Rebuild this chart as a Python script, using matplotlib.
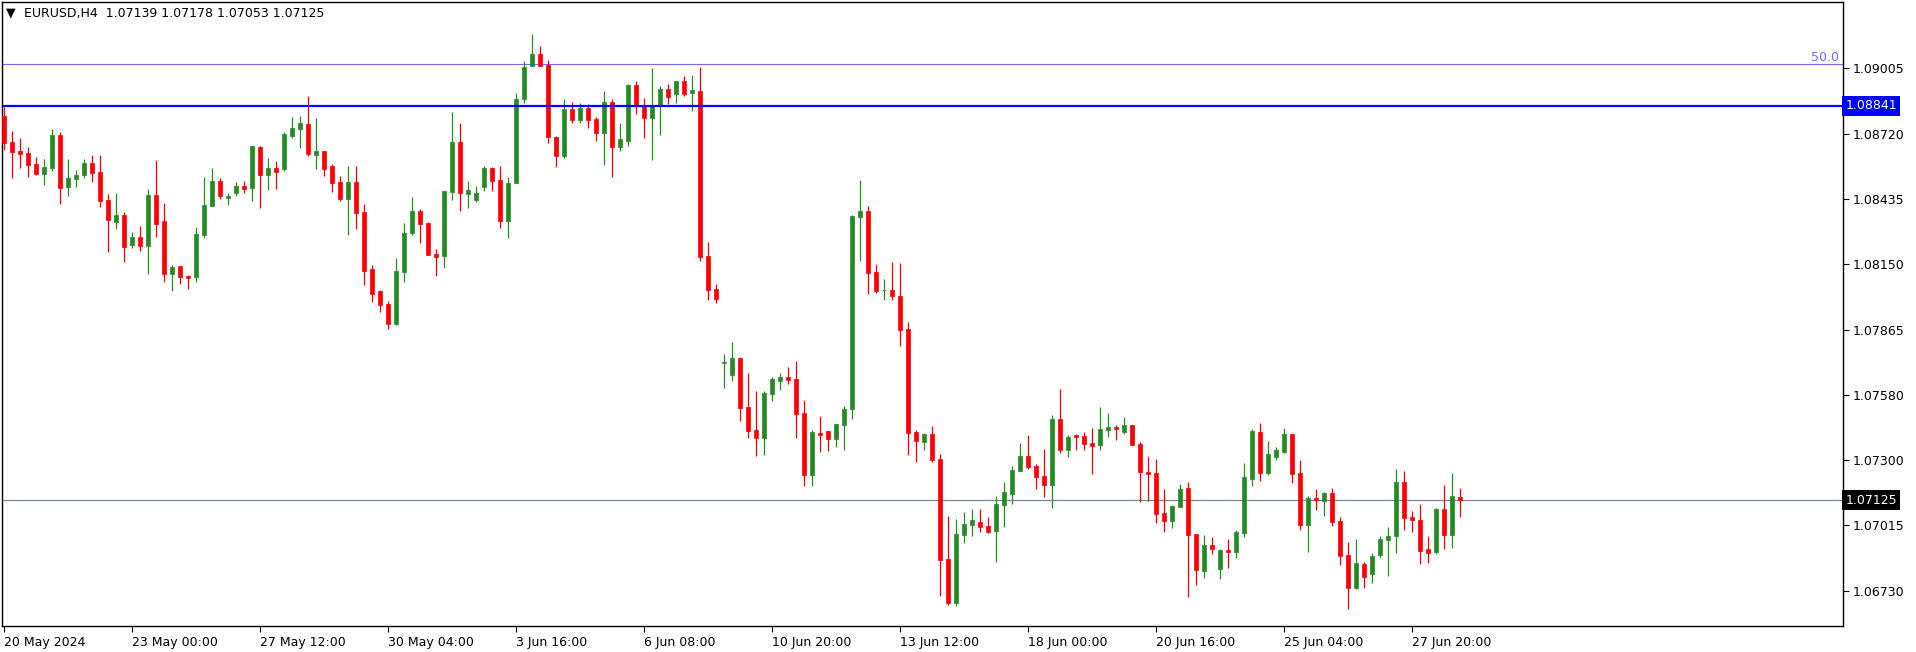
import matplotlib
matplotlib.use("Agg")
import matplotlib.pyplot as plt

# EURUSD H4 candles, oldest first
opens = [1.08796, 1.08683, 1.08644, 1.08635, 1.08587, 1.08545, 1.08571, 1.08713, 1.08488, 1.08523,
         1.08541, 1.08591, 1.08552, 1.08430, 1.08336, 1.08365, 1.08234, 1.08269, 1.08232, 1.08452,
         1.08339, 1.08110, 1.08143, 1.08101, 1.08097, 1.08278, 1.08406, 1.08514, 1.08440, 1.08462,
         1.08491, 1.08484, 1.08661, 1.08541, 1.08570, 1.08567, 1.08710, 1.08741, 1.08761, 1.08628,
         1.08644, 1.08578, 1.08509, 1.08436, 1.08509, 1.08378, 1.08130, 1.08034, 1.07978, 1.07892,
         1.08118, 1.08288, 1.08382, 1.08330, 1.08195, 1.08188, 1.08467, 1.08683, 1.08458, 1.08430,
         1.08488, 1.08570, 1.08517, 1.08340, 1.08504, 1.08870, 1.09015, 1.09066, 1.09019, 1.08705,
         1.08622, 1.08826, 1.08779, 1.08831, 1.08783, 1.08722, 1.08857, 1.08661, 1.08687, 1.08931,
         1.08839, 1.08787, 1.08844, 1.08913, 1.08892, 1.08948, 1.08896, 1.08905, 1.08188, 1.08043,
         1.07722, 1.07670, 1.07743, 1.07530, 1.07429, 1.07396, 1.07588, 1.07644, 1.07660, 1.07651,
         1.07503, 1.07235, 1.07416, 1.07425, 1.07392, 1.07453, 1.07521, 1.08358, 1.08383, 1.08117,
         1.08037, 1.08039, 1.08013, 1.07869, 1.07421, 1.07379, 1.07412, 1.07303, 1.06868, 1.06678,
         1.06974, 1.07017, 1.07029, 1.07012, 1.06990, 1.07104, 1.07152, 1.07252, 1.07316, 1.07273,
         1.07229, 1.07191, 1.07477, 1.07344, 1.07408, 1.07403, 1.07373, 1.07366, 1.07431, 1.07442,
         1.07422, 1.07451, 1.07368, 1.07247, 1.07242, 1.07070, 1.07035, 1.07096, 1.07177, 1.06977,
         1.06817, 1.06929, 1.06826, 1.06907, 1.06900, 1.06983, 1.07218, 1.07421, 1.07244, 1.07313,
         1.07334, 1.07412, 1.07242, 1.07017, 1.07133, 1.07122, 1.07155, 1.07033, 1.06885, 1.06743,
         1.06846, 1.06804, 1.06887, 1.06952, 1.06970, 1.07203, 1.07051, 1.07038, 1.06912, 1.06900,
         1.07086, 1.06974, 1.07139]
highs = [1.08836, 1.08731, 1.08700, 1.08661, 1.08617, 1.08609, 1.08739, 1.08726, 1.08609, 1.08561,
         1.08609, 1.08626, 1.08626, 1.08456, 1.08461, 1.08378, 1.08291, 1.08317, 1.08478, 1.08604,
         1.08417, 1.08147, 1.08143, 1.08104, 1.08313, 1.08530, 1.08570, 1.08526, 1.08461, 1.08509,
         1.08513, 1.08665, 1.08665, 1.08613, 1.08600, 1.08726, 1.08791, 1.08796, 1.08883, 1.08787,
         1.08644, 1.08587, 1.08535, 1.08578, 1.08578, 1.08413, 1.08147, 1.08039, 1.07991, 1.08178,
         1.08330, 1.08443, 1.08391, 1.08335, 1.08217, 1.08469, 1.08813, 1.08765, 1.08513, 1.08491,
         1.08578, 1.08574, 1.08578, 1.08530, 1.08896, 1.09035, 1.09153, 1.09101, 1.09040, 1.08709,
         1.08870, 1.08857, 1.08853, 1.08848, 1.08792, 1.08905, 1.08870, 1.08765, 1.08935, 1.08948,
         1.08874, 1.09005, 1.08927, 1.08935, 1.08948, 1.08970, 1.08974, 1.09009, 1.08248, 1.08065,
         1.07760, 1.07812, 1.07747, 1.07678, 1.07599, 1.07599, 1.07660, 1.07678, 1.07704, 1.07730,
         1.07560, 1.07429, 1.07490, 1.07425, 1.07456, 1.07534, 1.08365, 1.08517, 1.08404, 1.08152,
         1.08087, 1.08161, 1.08156, 1.07899, 1.07431, 1.07416, 1.07447, 1.07325, 1.07055, 1.07042,
         1.07073, 1.07086, 1.07086, 1.07052, 1.07142, 1.07203, 1.07273, 1.07373, 1.07408, 1.07281,
         1.07347, 1.07495, 1.07608, 1.07408, 1.07412, 1.07421, 1.07438, 1.07529, 1.07503, 1.07451,
         1.07486, 1.07451, 1.07377, 1.07316, 1.07303, 1.07174, 1.07103, 1.07194, 1.07203, 1.06977,
         1.06972, 1.06964, 1.06912, 1.06955, 1.06994, 1.07286, 1.07434, 1.07460, 1.07382, 1.07355,
         1.07438, 1.07412, 1.07299, 1.07142, 1.07173, 1.07160, 1.07177, 1.07051, 1.06942, 1.06955,
         1.06855, 1.06894, 1.06968, 1.07007, 1.07260, 1.07251, 1.07077, 1.07107, 1.06968, 1.07090,
         1.07190, 1.07242, 1.07178]
lows = [1.08648, 1.08527, 1.08571, 1.08532, 1.08541, 1.08497, 1.08558, 1.08414, 1.08449, 1.08488,
        1.08527, 1.08510, 1.08401, 1.08205, 1.08306, 1.08162, 1.08223, 1.08210, 1.08110, 1.08271,
        1.08075, 1.08036, 1.08066, 1.08044, 1.08075, 1.08266, 1.08406, 1.08436, 1.08410, 1.08449,
        1.08462, 1.08427, 1.08397, 1.08475, 1.08480, 1.08558, 1.08702, 1.08658, 1.08623, 1.08567,
        1.08536, 1.08467, 1.08427, 1.08279, 1.08306, 1.08062, 1.07988, 1.07944, 1.07870, 1.07888,
        1.08075, 1.08279, 1.08245, 1.08192, 1.08101, 1.08136, 1.08432, 1.08384, 1.08397, 1.08423,
        1.08471, 1.08471, 1.08310, 1.08266, 1.08504, 1.08853, 1.09015, 1.09015, 1.08678, 1.08574,
        1.08613, 1.08765, 1.08765, 1.08744, 1.08687, 1.08583, 1.08530, 1.08644, 1.08665, 1.08805,
        1.08700, 1.08604, 1.08713, 1.08848, 1.08853, 1.08883, 1.08818, 1.08166, 1.07995, 1.07982,
        1.07612, 1.07643, 1.07469, 1.07396, 1.07318, 1.07322, 1.07557, 1.07604, 1.07631, 1.07396,
        1.07187, 1.07187, 1.07335, 1.07340, 1.07357, 1.07344, 1.07479, 1.08166, 1.08023, 1.08027,
        1.07997, 1.07997, 1.07796, 1.07322, 1.07292, 1.07344, 1.07292, 1.06707, 1.06668, 1.06663,
        1.06939, 1.06970, 1.06987, 1.06983, 1.06856, 1.07009, 1.07109, 1.07252, 1.07261, 1.07173,
        1.07139, 1.07091, 1.07331, 1.07313, 1.07344, 1.07344, 1.07239, 1.07344, 1.07400, 1.07387,
        1.07413, 1.07366, 1.07117, 1.07122, 1.07026, 1.06987, 1.07004, 1.07096, 1.06704, 1.06756,
        1.06787, 1.06891, 1.06782, 1.06830, 1.06874, 1.06965, 1.07187, 1.07209, 1.07235, 1.07300,
        1.07331, 1.07200, 1.06996, 1.06900, 1.07083, 1.07057, 1.07013, 1.06843, 1.06652, 1.06739,
        1.06743, 1.06765, 1.06874, 1.06795, 1.06896, 1.06996, 1.06987, 1.06848, 1.06852, 1.06891,
        1.06913, 1.06917, 1.07053]
closes = [1.08680, 1.08641, 1.08632, 1.08584, 1.08545, 1.08574, 1.08713, 1.08484, 1.08526, 1.08539,
          1.08591, 1.08549, 1.08427, 1.08345, 1.08365, 1.08227, 1.08269, 1.08232, 1.08452, 1.08327,
          1.08110, 1.08139, 1.08097, 1.08092, 1.08282, 1.08409, 1.08514, 1.08449, 1.08448, 1.08491,
          1.08480, 1.08665, 1.08541, 1.08570, 1.08554, 1.08718, 1.08744, 1.08765, 1.08632, 1.08644,
          1.08567, 1.08506, 1.08436, 1.08509, 1.08375, 1.08123, 1.08023, 1.07975, 1.07892, 1.08121,
          1.08287, 1.08382, 1.08327, 1.08192, 1.08184, 1.08469, 1.08683, 1.08462, 1.08474, 1.08461,
          1.08570, 1.08514, 1.08340, 1.08504, 1.08870, 1.09009, 1.09066, 1.09015, 1.08705, 1.08622,
          1.08826, 1.08779, 1.08831, 1.08779, 1.08722, 1.08857, 1.08661, 1.08696, 1.08931, 1.08844,
          1.08787, 1.08839, 1.08913, 1.08879, 1.08948, 1.08892, 1.08909, 1.08184, 1.08039, 1.08000,
          1.07725, 1.07743, 1.07527, 1.07427, 1.07396, 1.07590, 1.07651, 1.07660, 1.07649, 1.07501,
          1.07235, 1.07421, 1.07409, 1.07392, 1.07456, 1.07521, 1.08361, 1.08383, 1.08114, 1.08036,
          1.08040, 1.08014, 1.07866, 1.07418, 1.07383, 1.07412, 1.07300, 1.06864, 1.06678, 1.06977,
          1.07020, 1.07038, 1.07007, 1.06985, 1.07107, 1.07160, 1.07255, 1.07316, 1.07270, 1.07225,
          1.07191, 1.07477, 1.07344, 1.07399, 1.07400, 1.07370, 1.07361, 1.07434, 1.07442, 1.07435,
          1.07451, 1.07366, 1.07248, 1.07239, 1.07065, 1.07035, 1.07099, 1.07173, 1.06974, 1.06822,
          1.06929, 1.06913, 1.06907, 1.06900, 1.06986, 1.07225, 1.07425, 1.07244, 1.07325, 1.07342,
          1.07412, 1.07239, 1.07017, 1.07133, 1.07126, 1.07155, 1.07030, 1.06883, 1.06743, 1.06851,
          1.06791, 1.06881, 1.06955, 1.06968, 1.07203, 1.07048, 1.07039, 1.06904, 1.06896, 1.07086,
          1.06974, 1.07142, 1.07125]

time_labels = ["20 May 2024", "23 May 00:00", "27 May 12:00", "30 May 04:00", "3 Jun 16:00",
               "6 Jun 08:00", "10 Jun 20:00", "13 Jun 12:00", "18 Jun 00:00", "20 Jun 16:00",
               "25 Jun 04:00", "27 Jun 20:00"]
price_ticks = [1.09005, 1.08720, 1.08435, 1.08150, 1.07865, 1.07580, 1.07300, 1.07015, 1.06730]

blue_level = 1.08841
bid_level = 1.07125
fibo_50 = 1.09021

BULL = "#228B22"
BEAR = "#FF0000"

W, H = 1916, 652
fig = plt.figure(figsize=(W / 100, H / 100), dpi=100)
fig.patch.set_facecolor("white")
ax = fig.add_axes([2 / W, 26 / H, 1841 / W, 624 / H])

n = len(opens)
xs = list(range(n))
cols = [BULL if c >= o else BEAR for o, c in zip(opens, closes)]

ax.vlines(xs, lows, highs, colors=cols, linewidth=0.9, zorder=3)
ax.bar(xs, [abs(c - o) for o, c in zip(opens, closes)],
       bottom=[min(o, c) for o, c in zip(opens, closes)],
       width=0.56, color=cols, edgecolor=cols, linewidth=0.5, zorder=4)

# levels
ax.axhline(fibo_50, color="#7B68EE", linewidth=0.8, zorder=2)
ax.axhline(blue_level, color="#0000FF", linewidth=1.6, zorder=5)
ax.axhline(bid_level, color="#778899", linewidth=0.9, zorder=2)
ax.text(0.998, fibo_50, "50.0", transform=ax.get_yaxis_transform(), ha="right", va="bottom",
        color="#7B68EE", fontsize=9)

ax.set_xlim(-0.25, 229.875)
ax.set_ylim(1.065767, 1.092923)

ax.yaxis.tick_right()
ax.set_yticks(price_ticks)
ax.set_yticklabels([f"{p:.5f}" for p in price_ticks], fontsize=9)
ax.set_xticks(list(range(0, 16 * len(time_labels), 16)))
ax.set_xticklabels(time_labels, fontsize=9)
for lbl in ax.get_xticklabels():
    lbl.set_horizontalalignment("left")
ax.tick_params(axis="x", direction="out", length=4, width=0.8, pad=3)
ax.tick_params(axis="y", direction="out", length=4, width=0.8, pad=3)
for s in ax.spines.values():
    s.set_linewidth(1.0)
    s.set_color("black")

# price tags on the scale
tr = ax.get_yaxis_transform()
ax.text(1.0012, blue_level, f"{blue_level:.5f}", transform=tr, ha="left", va="center",
        color="white", fontsize=9, clip_on=False,
        bbox=dict(facecolor="#0000FF", edgecolor="none", pad=2.4))
ax.text(1.0012, bid_level, f"{bid_level:.5f}", transform=tr, ha="left", va="center",
        color="white", fontsize=9, clip_on=False,
        bbox=dict(facecolor="black", edgecolor="none", pad=2.4))

# header
fig.text(6 / W, 1 - 13 / H, "\u25BC", fontsize=9, va="center", ha="left", color="black")
fig.text(24 / W, 1 - 14 / H,
         f"EURUSD,H4  {opens[-1]:.5f} {highs[-1]:.5f} {lows[-1]:.5f} {closes[-1]:.5f}",
         fontsize=9, va="center", ha="left", color="black")

fig.savefig("out.png", dpi=100, facecolor="white")
